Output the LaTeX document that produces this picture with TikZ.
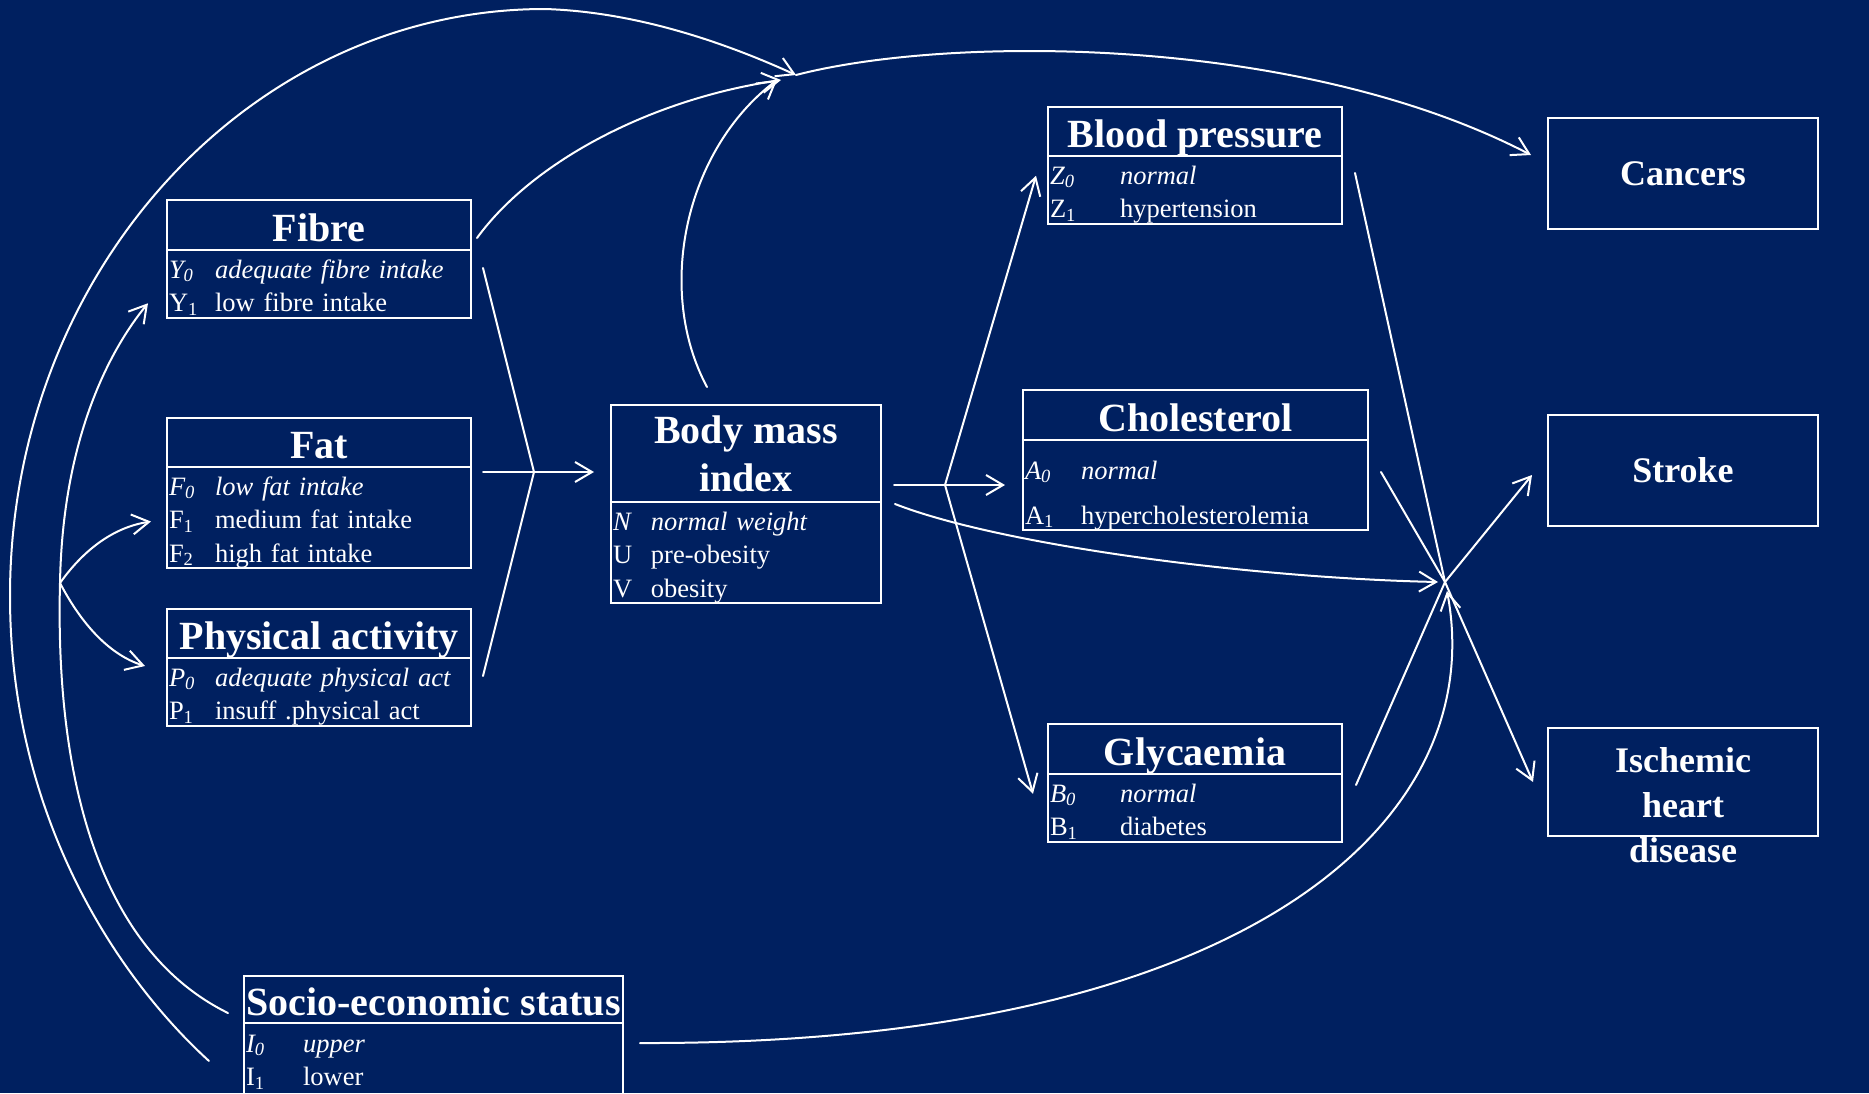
\documentclass[tikz,border=0pt]{standalone}
\usepackage{fontspec}
\setmainfont{Liberation Serif}
\usepackage{xcolor}
\usepackage{tikz}
\usetikzlibrary{arrows.meta,positioning}

\definecolor{bgnavy}{HTML}{002060}
\newcommand{\headfont}{\fontsize{40}{48}\selectfont\bfseries}
\newcommand{\outfont}{\fontsize{36}{45}\selectfont\bfseries}
\newcommand{\lvlfont}{\fontsize{26.5}{33.5}\selectfont}
\newcommand{\lvl}[3]{\makebox[#1][l]{#2}#3}
\newcommand{\topgap}[1][28pt]{\rule{0pt}{#1}}
\newcommand{\botgap}[1][6pt]{\rule[-#1]{0pt}{#1}}

\begin{document}
\begin{tikzpicture}[
    x=1pt, y=-1pt,
    headbase/.style={draw=white, line width=2pt, outer sep=0pt, inner sep=0pt, text=white, font=\headfont, align=center},
    head/.style={headbase, text height=32pt, text depth=0pt},
    lvls/.style={draw=white, line width=2pt, outer sep=0pt, inner xsep=2pt, inner ysep=0pt, text=white, font=\lvlfont, align=left},
    outbox/.style={draw=white, line width=2pt, outer sep=0pt, text=white, font=\outfont, minimum width=270pt, minimum height=111pt, align=center},
    conn/.style={draw=white, line width=2pt, line cap=round},
    arr/.style={conn, -{Straight Barb[length=17pt,width=20pt]}}
]
    \useasboundingbox (0,0) rectangle (1869,1093);
    \fill[bgnavy] (0,0) rectangle (1869,1093);

    % lifestyle factors
    \node[head, minimum width=304pt, minimum height=50pt] (fibre) at (319,225) {Fibre};
    \node[lvls, text width=300pt, below=0pt of fibre] (fibrelv) {\topgap\lvl{46pt}{\textit{Y\textsubscript{0}}}{\textit{adequate fibre intake}}\\
        \lvl{46pt}{Y\textsubscript{1}}{low fibre intake}\botgap};

    \node[head, minimum width=304pt, minimum height=49pt] (fat) at (319,442.5) {Fat};
    \node[lvls, text width=300pt, below=0pt of fat] (fatlv) {\topgap\lvl{46pt}{\textit{F\textsubscript{0}}}{\textit{low fat intake}}\\
        \lvl{46pt}{F\textsubscript{1}}{medium fat intake}\\
        \lvl{46pt}{F\textsubscript{2}}{high fat intake}\botgap};

    \node[head, minimum width=304pt, minimum height=49pt] (pa) at (319,633.5) {Physical activity};
    \node[lvls, text width=300pt, below=0pt of pa] (palv) {\topgap\lvl{46pt}{\textit{P\textsubscript{0}}}{\textit{adequate physical act}}\\
        \lvl{46pt}{P\textsubscript{1}}{insuff .physical act}\botgap};

    % body mass index
    \node[headbase, minimum width=270pt, minimum height=97pt] (bmi) at (746,453.5) {Body mass\\index};
    \node[lvls, text width=266pt, below=0pt of bmi] (bmilv) {\topgap\lvl{38pt}{\textit{N}}{\textit{normal weight}}\\
        \lvl{38pt}{U}{pre-obesity}\\
        \lvl{38pt}{V}{obesity}\botgap};

    % intermediate factors
    \node[head, minimum width=294pt, minimum height=49pt] (bp) at (1195,131.5) {Blood pressure};
    \node[lvls, text width=290pt, below=0pt of bp] (bplv) {\topgap\lvl{70pt}{\textit{Z\textsubscript{0}}}{\textit{normal}}\\
        \lvl{70pt}{Z\textsubscript{1}}{hypertension}\botgap};

    \node[head, minimum width=345pt, minimum height=50pt] (chol) at (1195.5,415) {Cholesterol};
    \node[lvls, text width=341pt, below=0pt of chol] (chollv) {\topgap[39pt]\lvl{56pt}{\textit{A\textsubscript{0}}}{\textit{normal}}\\[11.5pt]
        \lvl{56pt}{A\textsubscript{1}}{hypercholesterolemia}\botgap};

    \node[head, minimum width=294pt, minimum height=50pt] (gly) at (1195,749) {Glycaemia};
    \node[lvls, text width=290pt, below=0pt of gly] (glylv) {\topgap\lvl{70pt}{\textit{B\textsubscript{0}}}{\textit{normal}}\\
        \lvl{70pt}{B\textsubscript{1}}{diabetes}\botgap};

    % socio-economic status
    \node[head, minimum width=379pt, minimum height=47pt] (ses) at (433.5,999.5) {Socio-economic status};
    \node[lvls, text width=375pt, below=0pt of ses] (seslv) {\topgap[29pt]\lvl{57pt}{\textit{I\textsubscript{0}}}{\textit{upper}}\\
        \lvl{57pt}{I\textsubscript{1}}{lower}\botgap[25pt]};

    % outcomes
    \node[outbox] (cancers) at (1683,173.5) {Cancers};
    \node[outbox] (stroke) at (1683,470.5) {Stroke};
    \node[outbox, minimum height=108pt] (ihd) at (1683,782) {};
    \node[text=white, font=\outfont, align=center] (ihdtxt) at (1683,805.5) {Ischemic\\heart\\disease};

    % lifestyle -> BMI
    \coordinate (fanin) at (534,472);
    \draw[conn] ([xshift=12pt,yshift=-18pt]fibrelv.north east) -- (fanin);
    \draw[conn] ([xshift=12pt,yshift=-18pt]palv.north east) -- (fanin);
    \draw[arr] ([xshift=12pt,yshift=-5pt]fatlv.north east) -- ([xshift=-17pt,yshift=-18.5pt]bmi.west);

    % BMI -> intermediate factors
    \coordinate (fanout) at (945,485);
    \draw[conn] ([xshift=13pt,yshift=-31.5pt]bmi.east) -- (fanout);
    \draw[arr] (fanout) -- ([xshift=-18pt]chollv.west);
    \draw[arr] (fanout) -- ([xshift=-12pt,yshift=14pt]bplv.west);
    \draw[arr] (fanout) -- ([xshift=-15pt,yshift=14pt]glylv.west);

    % intermediate factors -> stroke and IHD
    \coordinate (hub) at (1445,582);
    \draw[conn] ([xshift=13pt,yshift=-17pt]bplv.north east) -- (hub);
    \draw[conn] ([xshift=13pt,yshift=-32pt]chollv.north east) -- (hub);
    \draw[conn] ([xshift=14pt,yshift=-11pt]glylv.north east) -- (hub);
    \draw[arr] ([xshift=14pt,yshift=-2pt]bmilv.north east) .. controls (1000,545) and (1250,578) .. ([xshift=-7pt]hub);
    \draw[arr] ([xshift=17pt,yshift=-20pt]seslv.north east) .. controls (1250,1045) and (1490,820) .. ([xshift=2pt,yshift=-9pt]hub);
    \draw[arr] (hub) -- ([xshift=-16pt,yshift=-4.5pt]stroke.west);
    \draw[arr] (hub) -- ([xshift=-15pt]ihd.west);

    % cancers
    \coordinate (apex) at (796,75);
    \draw[arr] (apex) .. controls (950,35) and (1300,35) .. ([xshift=-17pt,yshift=18.5pt]cancers.west);
    \draw[arr] ([xshift=6pt,yshift=-13pt]fibre.east) .. controls (530,165) and (645,100) .. ([xshift=-15pt,yshift=-5pt]apex);
    \draw[arr] ([xshift=-39pt,yshift=18pt]bmi.north) .. controls (655,290) and (685,150) .. ([xshift=-19pt,yshift=-5pt]apex);

    % socio-economic links
    \draw[arr] ([xshift=-35pt,yshift=-38pt]ses.south west) .. controls (120,980) and (10,820) .. (10,596)
        .. controls (10,272) and (250,9) .. (545,9) .. controls (640,12) and (730,45) .. (apex);
    \coordinate (fork) at (60,583);
    \draw[conn] ([xshift=-16pt,yshift=-13.5pt]ses.west) .. controls (100,950) and (55,780) .. (fork);
    \draw[arr] (fork) .. controls (63,420) and (122,335) .. ([xshift=-19pt,yshift=-19.5pt]fibrelv.west);
    \draw[arr] (fork) .. controls (85,548) and (115,527) .. ([xshift=-16pt,yshift=-4pt]fatlv.west);
    \draw[arr] (fork) .. controls (82,625) and (110,655) .. ([xshift=-22pt,yshift=-8pt]pa.south west);
\end{tikzpicture}
\end{document}
